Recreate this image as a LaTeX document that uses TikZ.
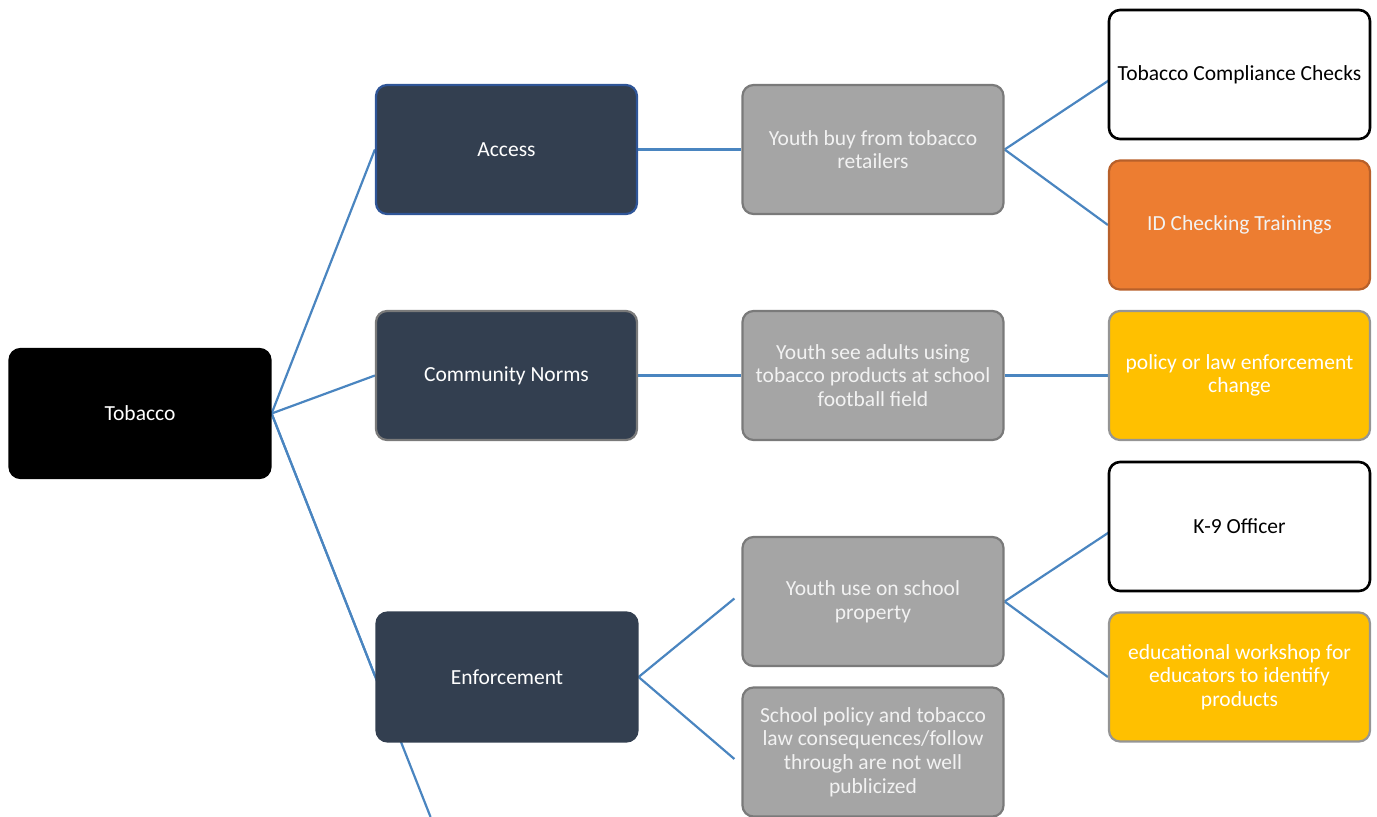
\documentclass[tikz,border=0pt]{standalone}
\usepackage{fontspec}
\setmainfont{Carlito}
\usetikzlibrary{backgrounds,calc}
\definecolor{slate}{HTML}{333F50}
\definecolor{gfill}{HTML}{A5A5A5}
\definecolor{gline}{HTML}{7A7A7A}
\definecolor{conn}{HTML}{4A85C0}
\definecolor{accblue}{HTML}{2F5597}
\definecolor{orng}{HTML}{ED7D31}
\definecolor{orngline}{HTML}{B8602A}
\definecolor{yel}{HTML}{FFC000}
\definecolor{ltext}{HTML}{F2F2F2}
\tikzset{
  box/.style={rectangle, rounded corners=11pt, minimum width=261pt, minimum height=129pt,
    line width=2.2pt, align=center, inner sep=2pt,
    font=\fontsize{21.5}{23.6}\selectfont},
  rootbox/.style={box, fill=black, draw=black, text=white},
  lvlone/.style={box, fill=slate, draw=gline, text=white},
  graybox/.style={box, fill=gfill, draw=gline, text=ltext},
  whitebox/.style={box, fill=white, draw=black, text=black, line width=2.6pt},
  orangebox/.style={box, fill=orng, draw=orngline, text=ltext},
  yellowbox/.style={box, fill=yel, draw=gline!80, text=white},
  conline/.style={draw=conn, line width=2.2pt}
}
\begin{document}
\begin{tikzpicture}[x=1pt,y=-1pt]
\useasboundingbox (0,0) rectangle (1377,817);
% level 0
\node[rootbox] (tob) at (140,413.5) {Tobacco};
% level 1
\node[lvlone, draw=accblue] (acc) at (506.5,149.5) {Access};
\node[lvlone] (com) at (506.5,375.5) {Community Norms};
\node[lvlone, draw=slate] (enf) at (507,677) {Enforcement};
% level 2
\node[graybox] (buy) at (873,149.5) {Youth buy from tobacco\\retailers};
\node[graybox] (see) at (873,375.5) {Youth see adults using\\tobacco products at school\\football field};
\node[graybox] (use) at (873,601.5) {Youth use on school\\property};
\node[graybox] (pol) at (873,752) {School policy and tobacco\\law consequences/follow\\through are not well\\publicized};
% level 3
\node[whitebox] (tcc) at (1239.5,74.5) {Tobacco Compliance Checks};
\node[orangebox] (idc) at (1239.5,225) {ID Checking Trainings};
\node[yellowbox] (law) at (1239.5,375.5) {policy or law enforcement\\change};
\node[whitebox] (k9) at (1239.5,526.5) {K-9 Officer};
\node[yellowbox] (edu) at (1239.5,677) {educational workshop for\\educators to identify\\products};
\coordinate (hid) at ($(tob.east)!1.531!(enf.west)$);
\begin{scope}[on background layer]
\draw[conline] (tob.east) -- (acc.west);
\draw[conline] (tob.east) -- (com.west);
\draw[conline] (tob.east) -- (enf.west);
\draw[conline] (tob.east) -- (hid);
\draw[conline] (acc.east) -- (buy.west);
\draw[conline] (com.east) -- (see.west);
\draw[conline] (enf.east) -- ([xshift=-7pt,yshift=3pt]use.west);
\draw[conline] (enf.east) -- ([xshift=-7pt,yshift=-7pt]pol.west);
\draw[conline] (buy.east) -- ([xshift=4pt,yshift=-4pt]tcc.west);
\draw[conline] (buy.east) -- (idc.west);
\draw[conline] (see.east) -- (law.west);
\draw[conline] (use.east) -- ([xshift=4pt,yshift=-4pt]k9.west);
\draw[conline] (use.east) -- (edu.west);
\end{scope}
\end{tikzpicture}
\end{document}
